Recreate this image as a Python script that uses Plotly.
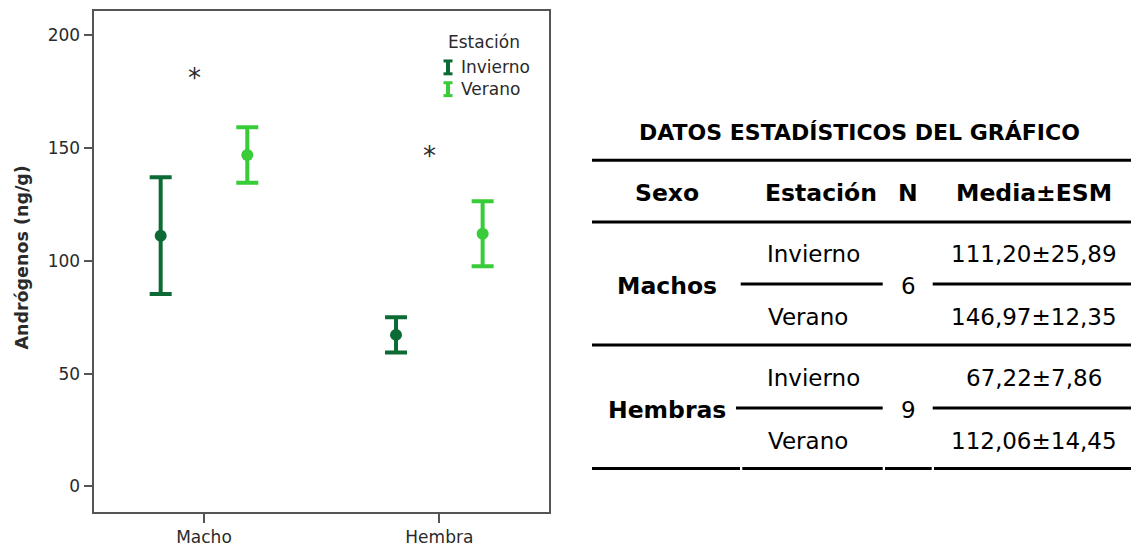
"""Andrógenos por sexo y estación: gráfico de medias ± ESM con tabla resumen."""

import plotly.graph_objects as go

# Datos
sexos = ["Macho", "Hembra"]
sexos_tabla = ["Machos", "Hembras"]
estaciones = ["Invierno", "Verano"]
n_animales = [6, 9]
media_invierno = [111.20, 67.22]
esm_invierno = [25.89, 7.86]
media_verano = [146.97, 112.06]
esm_verano = [12.35, 14.45]
# Posición de los asteriscos de significación (valor en el eje y)
asterisco_y = [181, 146.5]

W, H = 1131, 547
COLORES = {"Invierno": "#0c6b35", "Verano": "#39cc39"}
DESPLAZAMIENTO = {"Invierno": -0.184, "Verano": 0.184}
FUENTE = "DejaVu Sans"
GRIS = "#2a2a2a"


def px(x):
    return x / W


def py(y):
    return 1 - y / H


def fmt(v):
    return f"{v:.2f}".replace(".", ",")


fig = go.Figure()

series = {
    "Invierno": (media_invierno, esm_invierno),
    "Verano": (media_verano, esm_verano),
}
for est, (medias, errores) in series.items():
    fig.add_trace(go.Scatter(
        x=[i + DESPLAZAMIENTO[est] for i in range(len(sexos))],
        y=medias,
        mode="markers",
        name=est,
        marker=dict(size=12, color=COLORES[est]),
        error_y=dict(type="data", array=errores, visible=True,
                     color=COLORES[est], thickness=4, width=11),
        showlegend=False,
    ))

# Asteriscos de significación
for i, ay in enumerate(asterisco_y):
    fig.add_annotation(x=i - 0.04, y=ay, xref="x", yref="y", text="*",
                       showarrow=False, font=dict(family=FUENTE, size=26, color=GRIS),
                       xanchor="center", yanchor="middle")


def texto(x, y, t, font, xanchor="center", angle=0):
    fig.add_annotation(x=px(x), y=py(y), xref="paper", yref="paper", text=t,
                       showarrow=False, font=font, xanchor=xanchor, yanchor="middle",
                       textangle=angle)


def linea(x0, x1, y, color="#000000", width=3):
    fig.add_shape(type="line", xref="paper", yref="paper", x0=px(x0), x1=px(x1),
                  y0=py(y), y1=py(y), line=dict(color=color, width=width))


def simbolo_barra(xc, yc, color):
    # pequeño símbolo en forma de barra de error para la leyenda
    fig.add_shape(type="line", xref="paper", yref="paper", x0=px(xc), x1=px(xc),
                  y0=py(yc - 6.5), y1=py(yc + 6.5), line=dict(color=color, width=4))
    linea(xc - 4.5, xc + 4.5, yc - 6.5, color, 3)
    linea(xc - 4.5, xc + 4.5, yc + 6.5, color, 3)


# Leyenda manual
texto(484, 42, "Estación", dict(family=FUENTE, size=17, color=GRIS))
for est, yy in zip(estaciones, [68, 90]):
    simbolo_barra(448, yy, COLORES[est])
    texto(459, yy, est, dict(family=FUENTE, size=17, color=GRIS), xanchor="left")

# Título del eje y
texto(22, 260, "<b>Andrógenos (ng/g)</b>", dict(family=FUENTE, size=17.5, color=GRIS), angle=-90)

# Tabla de datos estadísticos
TXT = dict(family=FUENTE, size=23, color="#000000")
BOLD = dict(family=FUENTE, size=23.5, color="#000000")

texto(859, 133.5, "<b>DATOS ESTADÍSTICOS DEL GRÁFICO</b>", dict(family=FUENTE, size=22, color="#000000"))
for x, t in zip([666.5, 821, 908, 1034], ["Sexo", "Estación", "N", "Media±ESM"]):
    texto(x, 195, f"<b>{t}</b>", BOLD)

linea(592, 1131, 161.7)
linea(592, 1131, 224)
linea(592, 1131, 348.3)
for x0, x1 in [(592, 740), (742.3, 882.7), (885, 931.7), (934, 1131)]:
    linea(x0, x1, 472.7)

bloques_y = [288.3, 413.3]
inicio_linea = [740.7, 736]
for i, yc in enumerate(bloques_y):
    texto(666.5, yc, f"<b>{sexos_tabla[i]}</b>", BOLD)
    texto(908, yc, str(n_animales[i]), TXT)
    linea(inicio_linea[i], 882.7, yc - 1.6)
    linea(932.7, 1131, yc - 1.6)
    filas = [
        ("Invierno", media_invierno[i], esm_invierno[i], yc - 31.6, 813),
        ("Verano", media_verano[i], esm_verano[i], yc + 31.5, 808),
    ]
    for est, m, e, yy, xe in filas:
        texto(xe, yy, est, TXT)
        texto(1034, yy, f"{fmt(m)}±{fmt(e)}", TXT)

fig.update_layout(
    width=W,
    height=H,
    margin=dict(l=0, r=0, t=0, b=0),
    plot_bgcolor="white",
    paper_bgcolor="white",
    font=dict(family=FUENTE, size=17, color=GRIS),
    xaxis=dict(
        domain=[px(94.3), px(549)],
        range=[-0.466, 1.466],
        tickvals=list(range(len(sexos))),
        ticktext=sexos,
        ticks="outside", ticklen=9, tickwidth=1.5, tickcolor="#555555",
        showline=True, linecolor="#555555", linewidth=1.5, mirror=True,
        showgrid=False, zeroline=False,
    ),
    yaxis=dict(
        domain=[py(516.7), py(10.7)],
        range=[-11.3, 211],
        tickvals=[0, 50, 100, 150, 200],
        ticks="outside", ticklen=9, tickwidth=1.5, tickcolor="#555555",
        showline=True, linecolor="#555555", linewidth=1.5, mirror=True,
        showgrid=False, zeroline=False,
    ),
)

fig.write_html("out.html", config={"displayModeBar": False},
               post_script="document.body.style.margin = '0px';")
